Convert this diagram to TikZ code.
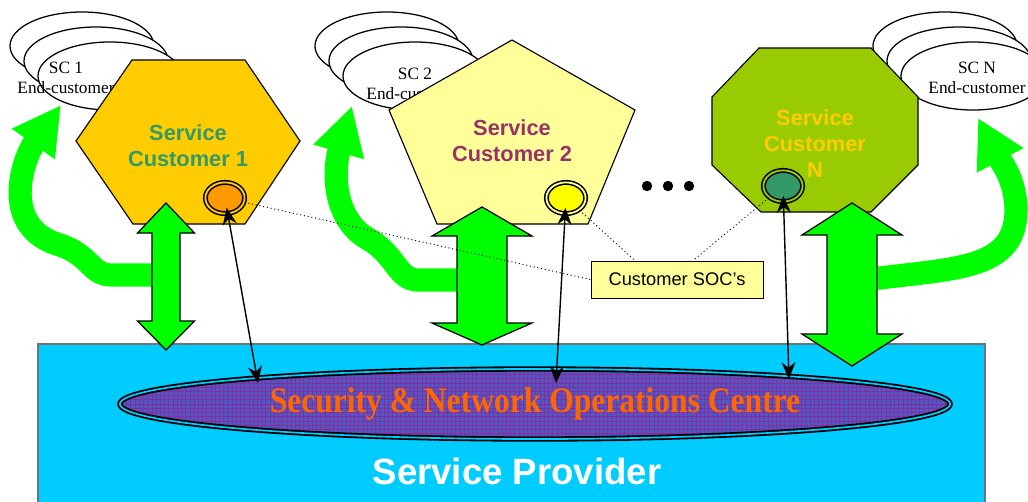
\documentclass[tikz,border=0pt]{standalone}
\usepackage{fontspec}
\setmainfont{Liberation Serif}
\setsansfont{Liberation Sans}
\newfontfamily\snocfont{Liberation Serif}[FakeStretch=0.88]
\definecolor{provblue}{HTML}{00CCFF}
\definecolor{hexgold}{HTML}{FFCC00}
\definecolor{sctealtext}{HTML}{339966}
\definecolor{pentyellow}{HTML}{FFFF99}
\definecolor{scplumtext}{HTML}{993366}
\definecolor{octgreen}{HTML}{99CC00}
\definecolor{bandgreen}{HTML}{00FF00}
\definecolor{socorange}{HTML}{FF9900}
\definecolor{socyellow}{HTML}{FFFF00}
\definecolor{snocblue}{HTML}{4A5CC4}
\definecolor{snocgrid}{HTML}{8A2A9E}
\definecolor{snoctext}{HTML}{FF6600}
\usetikzlibrary{arrows.meta,shapes.geometric,patterns,calc}

\begin{document}
\begin{tikzpicture}[x=0.025cm,y=-0.025cm,
    ecloud/.style={ellipse,draw,fill=white,line width=.9pt,inner sep=0,
      minimum width=3.6cm,minimum height=1.7cm},
    eclabel/.style={align=center,font=\fontsize{12.3}{14.5}\selectfont},
    scshape/.style={draw,line width=.8pt,line join=miter},
    sclabel/.style={align=center,font=\sffamily\bfseries\fontsize{15.5}{18.5}\selectfont},
    blockarrow/.style={draw,fill=bandgreen,line width=.9pt,line join=miter},
    band/.style={draw=bandgreen,line width=16.5pt,-{Triangle[length=34pt,width=35pt]}},
    socring/.style={ellipse,draw,line width=1.1pt,double distance=1.3pt,inner sep=0,
      minimum width=.98cm,minimum height=.78cm},
    socline/.style={line width=1pt,shorten <=7pt,
      {Stealth[length=12pt,width=10pt,inset=4pt]}-{Stealth[length=12pt,width=10pt,inset=4pt]}},
    tagline/.style={dotted,line width=.7pt}]
  \path[use as bounding box] (0,0) rectangle (1028,501);
  \draw[fill=provblue,draw=black!55,line width=.8pt] (38,344) rectangle (985,520);
  \node[ellipse,draw,line width=1.3pt,double=provblue,double distance=1.2pt,
    preaction={fill=snocblue},pattern=grid,pattern color=snocgrid,
    minimum width=20.75cm,minimum height=1.75cm,inner sep=0,text=snoctext,
    font=\snocfont\bfseries\fontsize{25.5}{28}\selectfont]
    (snoc) at (535,404) {Security \& Network Operations Centre};
  \node[text=white,font=\sffamily\bfseries\fontsize{26}{30}\selectfont]
    (provider) at (517,471) {Service Provider};
  \foreach \n/\x/\lx/\ly in {1/110/66/78,2/415/415/84,N/973/977/78}{
    \node[ecloud] (ec\n-c) at (\x-28,46) {};
    \node[ecloud] (ec\n-b) at (\x-14,61) {};
    \node[ecloud] (ec\n-a) at (\x,76) {};
    \node[eclabel] (ec\n) at (\lx,\ly) {SC \n\\End-customer};
  }
  \foreach \n/\x/\y in {1/166/275,2/482/280,N/852/279}
    \coordinate (arr\n) at (\x,\y);
  \coordinate (tip1) at (61,105);
  \coordinate (tip2) at (352,106);
  \coordinate (tipN) at (978,118);
  \draw[band] (arr1) -- (112,275) .. controls (90,275) and (92,256) .. (60,245)
    .. controls (0,228) and (22,160) .. (tip1);
  \draw[band] (arr2) -- (418,280) .. controls (398,280) and (396,256) .. (370,240)
    .. controls (335,222) and (332,175) .. (tip2);
  \draw[band] (arrN) -- (880,278) .. controls (960,268) and (1016,268) .. (1016,210)
    .. controls (1016,180) and (1000,160) .. (tipN);
  \draw[scshape,fill=hexgold] (76,141) -- (132,60) -- (245,60) -- (300,141)
    -- (245,224) -- (133,224) -- cycle;
  \node[sclabel,text=sctealtext] (sc1) at (188,146) {Service\\Customer 1};
  \draw[scshape,fill=pentyellow] (512,40) -- (635,110) -- (588,224) -- (437,224)
    -- (389,110) -- cycle;
  \node[sclabel,text=scplumtext] (sc2) at (512,141) {Service\\Customer 2};
  \draw[scshape,fill=octgreen] (759,48) -- (871,48) -- (918,97) -- (918,165)
    -- (871,212) -- (761,212) -- (712,165) -- (712,97) -- cycle;
  \node[sclabel,text=hexgold] (scN) at (815,144) {Service\\Customer\\N};
  \foreach \ax/\ayu/\ayd/\hh/\hs/\lu/\ld in
      {166/203/350/28.5/14/30/29,482/207/345/50/25/29/22,852/203/366/50/25/32/32}
    \draw[blockarrow] (\ax,\ayu) -- (\ax+\hh,\ayu+\lu) -- (\ax+\hs,\ayu+\lu)
      -- (\ax+\hs,\ayd-\ld) -- (\ax+\hh,\ayd-\ld) -- (\ax,\ayd) -- (\ax-\hh,\ayd-\ld)
      -- (\ax-\hs,\ayd-\ld) -- (\ax-\hs,\ayu+\lu) -- (\ax-\hh,\ayu+\lu) -- cycle;
  \foreach \x in {647,668,689}
    \fill (\x,186) circle (1.3mm);
  \node[socring,fill=socorange,double=hexgold] (soc1) at (225,198) {};
  \node[socring,fill=socyellow,double=pentyellow] (soc2) at (566,198) {};
  \node[socring,fill=sctealtext,double=octgreen] (socN) at (783,186) {};
  \node[draw,fill=pentyellow,line width=.6pt,minimum width=4.3cm,minimum height=.925cm,
    font=\sffamily\fontsize{13}{15}\selectfont] (socbox) at (677,279.5) {Customer SOC's};
  \draw[tagline] (soc1) -- (socbox.west);
  \draw[tagline] (soc2) -- ($(socbox.north)+(-42,0)$);
  \draw[tagline] (socN) -- ($(socbox.north)+(16,0)$);
  \coordinate (end1) at (258,383);
  \coordinate (end2) at (556,383);
  \coordinate (endN) at (789,379);
  \draw[socline] (soc1.center) -- (end1);
  \draw[socline] (soc2.center) -- (end2);
  \draw[socline] (socN.center) -- (endN);
\end{tikzpicture}
\end{document}
